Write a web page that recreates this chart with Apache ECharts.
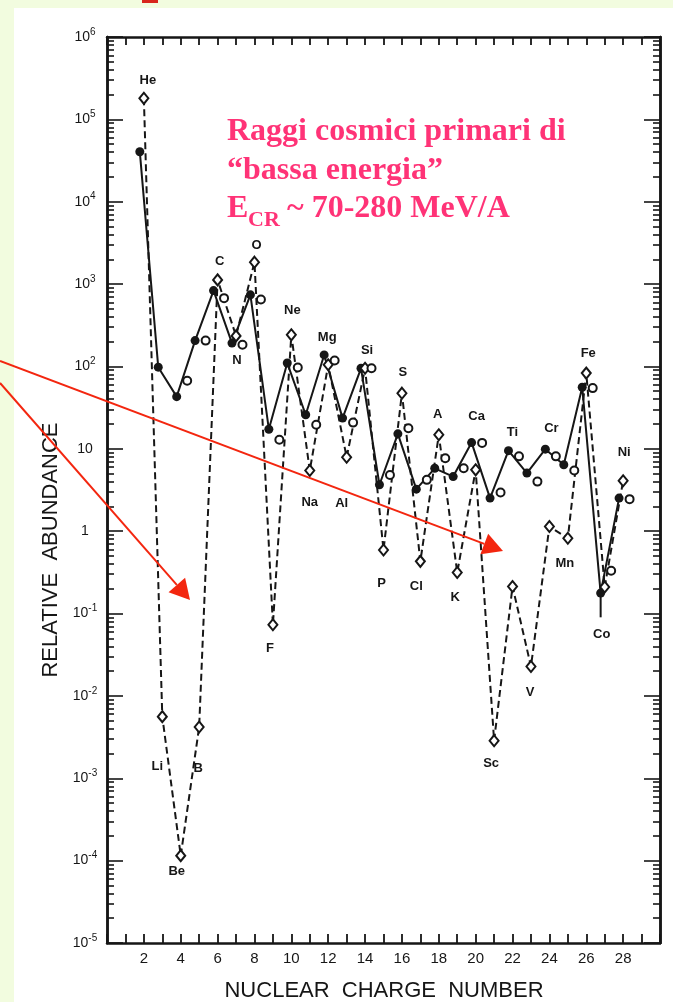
<!DOCTYPE html>
<html>
<head>
<meta charset="utf-8">
<style>
  html, body { margin: 0; padding: 0; background: #f2fcdf; }
  #panel { position: absolute; left: 14px; top: 8px; width: 659px; height: 994px; background: #fff; }
  #chart { position: absolute; left: 0; top: 0; width: 673px; height: 1002px; }
</style>
<script src="https://cdn.jsdelivr.net/npm/echarts@6/dist/echarts.min.js"></script>
</head>
<body>
<div id="panel"></div>
<div id="chart"></div>
<script>
// nuclear charge and element names
const Z = [2, 3, 4, 5, 6, 7, 8, 9, 10, 11, 12, 13, 14, 15, 16, 17, 18, 19, 20, 21, 22, 23, 24, 25, 26, 27, 28];
const ELEMENTS = ['He', 'Li', 'Be', 'B', 'C', 'N', 'O', 'F', 'Ne', 'Na', 'Mg', 'Al', 'Si', 'P', 'S', 'Cl', 'A', 'K', 'Ca', 'Sc', 'Ti', 'V', 'Cr', 'Mn', 'Fe', 'Co', 'Ni'];

// filled circles, solid line
const CR_LOW = [40500, 98, 43, 206, 834, 192, 740, 17.3, 110, 25.9, 138, 23.6, 95, 3.66, 15.2, 3.24, 5.8, 4.6, 11.9, 2.52, 9.5, 5.07, 9.9, 6.4, 56, 0.177, 2.52];
// open diamonds, dashed line
const SOLAR = [180000, 0.0056, 0.000115, 0.0042, 1125, 235, 1845, 0.073, 242, 5.45, 105, 7.9, 95, 0.59, 47.4, 0.43, 14.8, 0.315, 5.56, 0.00286, 0.213, 0.0228, 1.14, 0.82, 83, 0.21, 4.1];
// open circles
const CR_HIGH = [null, null, 67, 206, 675, 183, 650, 12.9, 97, 19.6, 118, 20.8, 95, 4.8, 17.8, 4.2, 7.7, 5.8, 11.8, 2.95, 8.1, 4.0, 8.1, 5.45, 54.6, 0.33, 2.45];
// Co error bar (filled point)
const CO_ERROR = [0.09, 0.177];

const X_LABELS = [2, 4, 6, 8, 10, 12, 14, 16, 18, 20, 22, 24, 26, 28];
const Y_EXP = [-5, -4, -3, -2, -1, 0, 1, 2, 3, 4, 5, 6];

const Y_MAJOR = Y_EXP.map(k => Math.pow(10, k));
const Y_MINOR = [];
Y_EXP.slice(0, -1).forEach(k => {
  for (let m = 2; m <= 9; m++) Y_MINOR.push(m * Math.pow(10, k));
});

// plotting offsets along x so the three sets don't overlap (as in the figure)
const OFFSET = { low: -0.22, solar: 0, high: 0.35 };

// element label offsets from the diamond, px
const LABEL_OFFSET = {
  He: [4, -18], Li: [-5, 50], Be: [-4, 16], B: [-1, 41], C: [2, -18], N: [1, 25],
  O: [2, -17], F: [-3, 24], Ne: [1, -24], Na: [0, 32], Mg: [-1, -27], Al: [-5, 46],
  Si: [2, -18], P: [-2, 33], S: [1, -21], Cl: [-4, 25], A: [-1, -20], K: [-2, 25],
  Ca: [1, -53], Sc: [-3, 23], Ti: [0, -154], V: [-1, 26], Cr: [2, -98], Mn: [-3, 25],
  Fe: [2, -20], Co: [-3, 47], Ni: [1, -28],
};

const INK = '#161616';
const SANS = '"Liberation Sans", Arial, sans-serif';
const SERIF = '"Liberation Serif", "Times New Roman", serif';
const PINK = '#ff3377';
const RED = '#f3260f';

const chart = echarts.init(document.getElementById('chart'));

function yLabel(v) {
  const k = Math.round(Math.log10(v));
  if (k === 0) return '1';
  if (k === 1) return '10';
  return '{b|10}{s|' + k + '}';
}

function logAxis(position, ticks, length, withLabels) {
  return {
    type: 'log',
    logBase: 10,
    min: 1e-5,
    max: 1e6,
    position,
    axisLine: { show: true, lineStyle: { color: INK, width: 2.5 } },
    axisTick: { show: true, inside: true, length, customValues: ticks, lineStyle: { color: INK, width: 1.6 } },
    axisLabel: withLabels
      ? {
          show: true,
          customValues: Y_MAJOR,
          formatter: yLabel,
          align: 'center',
          margin: 22,
          color: INK,
          fontFamily: SANS,
          fontSize: 14,
          rich: {
            b: { fontFamily: SANS, fontSize: 14, color: INK, lineHeight: 20 },
            s: { fontFamily: SANS, fontSize: 10, color: INK, verticalAlign: 'top', lineHeight: 12 },
          },
        }
      : { show: false },
    splitLine: { show: false },
    minorTick: { show: false },
  };
}

function xAxis(position, length, withLabels) {
  return {
    type: 'value',
    min: 0,
    max: 30,
    interval: 1,
    position,
    axisLine: { show: true, lineStyle: { color: INK, width: 2.5 } },
    axisTick: { show: true, inside: true, length, lineStyle: { color: INK, width: 1.8 } },
    axisLabel: withLabels
      ? {
          show: true,
          formatter: v => (X_LABELS.includes(v) ? String(v) : ''),
          color: INK,
          fontFamily: SANS,
          fontSize: 15,
          margin: 8,
        }
      : { show: false },
    splitLine: { show: false },
  };
}

function arrow(x0, y0, tx, ty, size) {
  const a = Math.atan2(ty - y0, tx - x0);
  const bx = tx - size * Math.cos(a);
  const by = ty - size * Math.sin(a);
  const hw = size * 0.55;
  const px = -Math.sin(a) * hw;
  const py = Math.cos(a) * hw;
  return [
    { type: 'line', z: 100, shape: { x1: x0, y1: y0, x2: bx, y2: by }, style: { stroke: RED, lineWidth: 2 } },
    {
      type: 'polygon', z: 100,
      shape: { points: [[tx, ty], [bx + px, by + py], [bx - px, by - py]] },
      style: { fill: RED },
    },
  ];
}

const option = {
  animation: false,
  backgroundColor: 'transparent',
  grid: { left: 107, top: 37, width: 553, height: 906 },
  xAxis: [xAxis('bottom', 9, true), xAxis('top', 8, false)],
  yAxis: [
    logAxis('left', Y_MAJOR, 16, true),
    logAxis('left', Y_MINOR, 7, false),
    logAxis('right', Y_MAJOR, 16, false),
    logAxis('right', Y_MINOR, 7, false),
  ],
  series: [
    {
      name: 'low',
      type: 'line',
      z: 3,
      data: Z.map((z, i) => [z + OFFSET.low, CR_LOW[i]]),
      symbol: 'circle',
      symbolSize: 9,
      showAllSymbol: true,
      itemStyle: { color: INK },
      lineStyle: { color: INK, width: 2 },
    },
    {
      name: 'solar',
      type: 'line',
      z: 4,
      data: Z.map((z, i) => ({
        value: [z + OFFSET.solar, SOLAR[i]],
        label: { offset: LABEL_OFFSET[ELEMENTS[i]] },
      })),
      symbol: 'diamond',
      symbolSize: [9, 11],
      showAllSymbol: true,
      itemStyle: { color: '#fff', borderColor: INK, borderWidth: 2 },
      lineStyle: { color: INK, width: 2, type: [7, 4] },
      label: {
        show: true,
        position: 'inside',
        formatter: p => ELEMENTS[p.dataIndex],
        color: INK,
        fontFamily: SANS,
        fontWeight: 'bold',
        fontSize: 13,
      },
    },
    {
      name: 'high',
      type: 'scatter',
      z: 5,
      data: Z.map((z, i) => [z + OFFSET.high, CR_HIGH[i]]).filter(d => d[1] != null),
      symbol: 'circle',
      symbolSize: 8,
      itemStyle: { color: '#fff', borderColor: INK, borderWidth: 2, opacity: 1 },
    },
    {
      name: 'co-error',
      type: 'line',
      z: 3,
      data: CO_ERROR.map(v => [27 + OFFSET.low, v]),
      symbol: 'none',
      lineStyle: { color: INK, width: 2 },
    },
  ],
  graphic: [
    { type: 'rect', z: 100, shape: { x: 142, y: 0, width: 16, height: 3 }, style: { fill: '#d8261c' } },
    {
      type: 'text', z: 100,
      style: { x: 227, y: 132, text: 'Raggi cosmici primari di', font: 'bold 32px ' + SERIF, fill: PINK, align: 'left', verticalAlign: 'middle' },
    },
    {
      type: 'text', z: 100,
      style: { x: 227, y: 171, text: '\u201cbassa energia\u201d', font: 'bold 32px ' + SERIF, fill: PINK, align: 'left', verticalAlign: 'middle' },
    },
    {
      type: 'text', z: 100,
      style: { x: 227, y: 209, text: 'E', font: 'bold 32px ' + SERIF, fill: PINK, align: 'left', verticalAlign: 'middle' },
    },
    {
      type: 'text', z: 100,
      style: { x: 248, y: 220, text: 'CR', font: 'bold 22px ' + SERIF, fill: PINK, align: 'left', verticalAlign: 'middle' },
    },
    {
      type: 'text', z: 100,
      style: { x: 279, y: 209, text: ' ~ 70-280 MeV/A', font: 'bold 32px ' + SERIF, fill: PINK, align: 'left', verticalAlign: 'middle' },
    },
    {
      type: 'text', z: 100, x: 51, y: 550, rotation: Math.PI / 2,
      style: { x: 0, y: 0, text: 'RELATIVE  ABUNDANCE', font: '22px ' + SANS, fill: INK, align: 'center', verticalAlign: 'middle' },
    },
    {
      type: 'text', z: 100,
      style: { x: 384, y: 991, text: 'NUCLEAR  CHARGE  NUMBER', font: '22px ' + SANS, fill: INK, align: 'center', verticalAlign: 'middle' },
    },
    ...arrow(0, 361, 503, 551, 20),
    ...arrow(0, 383, 190, 600, 20),
  ],
};

chart.setOption(option);
window.addEventListener('resize', () => chart.resize());
</script>
</body>
</html>
